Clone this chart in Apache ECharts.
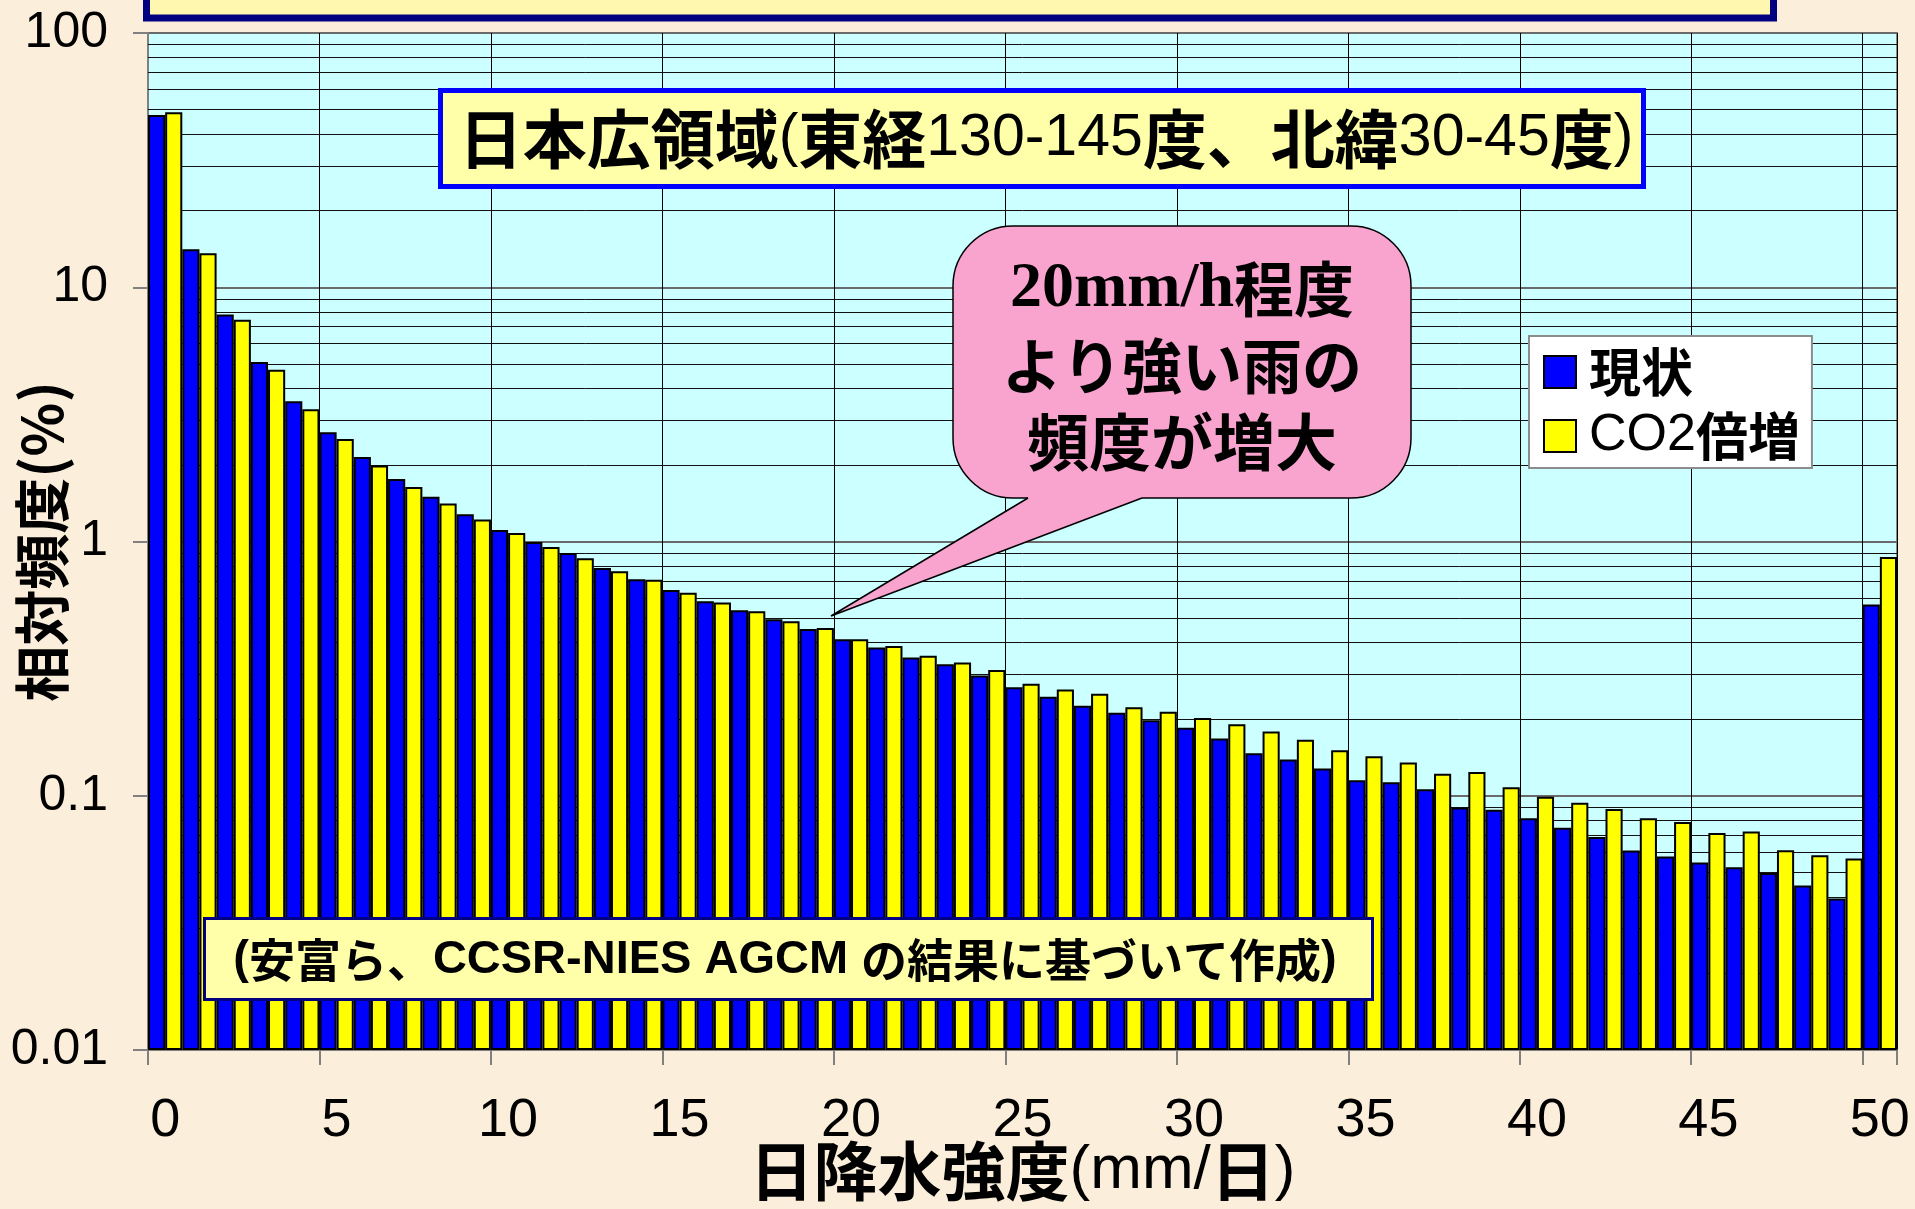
<!DOCTYPE html>
<html>
<head>
<meta charset="utf-8">
<title>日降水強度の相対頻度</title>
<script src="https://cdn.jsdelivr.net/npm/echarts@6/dist/echarts.min.js"></script>
<style>
  html, body { margin: 0; padding: 0; background: #fbeedb; }
  #chart { width: 1915px; height: 1209px; }
</style>
</head>
<body>
<div id="chart"></div>
<script>
// Daily precipitation intensity classes (mm/day); the last class collects 50 and above
const categories = ['0','1','2','3','4','5','6','7','8','9','10','11','12','13','14','15','16','17','18','19','20',
  '21','22','23','24','25','26','27','28','29','30','31','32','33','34','35','36','37','38','39','40',
  '41','42','43','44','45','46','47','48','49','50'];

// Relative frequency (%) - present climate
const presentFreq = [47.6, 14.1, 7.82, 5.08, 3.56, 2.69, 2.15, 1.76, 1.50, 1.28,
  1.11, 0.995, 0.901, 0.787, 0.710, 0.645, 0.582, 0.537, 0.495, 0.453,
  0.413, 0.383, 0.350, 0.329, 0.297, 0.267, 0.245, 0.226, 0.212, 0.198,
  0.185, 0.168, 0.147, 0.139, 0.128, 0.115, 0.113, 0.106, 0.0899, 0.0880,
  0.0815, 0.0749, 0.0688, 0.0609, 0.0577, 0.0546, 0.0523, 0.0497, 0.0444, 0.0394,
  0.565];

// Relative frequency (%) - doubled CO2
const doubledCO2Freq = [48.8, 13.6, 7.45, 4.74, 3.31, 2.53, 1.99, 1.64, 1.41, 1.22,
  1.08, 0.951, 0.859, 0.764, 0.708, 0.628, 0.575, 0.532, 0.486, 0.457,
  0.413, 0.388, 0.355, 0.334, 0.312, 0.276, 0.262, 0.252, 0.223, 0.214,
  0.202, 0.191, 0.179, 0.166, 0.151, 0.143, 0.135, 0.122, 0.124, 0.108,
  0.0992, 0.0938, 0.0887, 0.0815, 0.0789, 0.0713, 0.0723, 0.0611, 0.0584, 0.0567,
  0.87];

const seriesNames = ['現状', 'CO2倍増'];

// Log axis tick labels
const yTickValues = [0.01, 0.1, 1, 10, 100];
const yTickLabels = ['0.01', '0.1', '1', '10', '100'];

// Minor horizontal rules at 2..9 of every decade
const minorGridValues = [];
[0.01, 0.1, 1, 10].forEach(function (d) {
  for (let k = 2; k <= 9; k++) minorGridValues.push(+(k * d).toPrecision(3));
});

const CJK = '"Noto Sans CJK JP", "Noto Sans CJK SC", sans-serif';
const NARROW = '"Liberation Sans Narrow", "Liberation Sans", Arial, sans-serif';
const SANS = '"Liberation Sans", Arial, sans-serif';
const SERIF = '"Liberation Serif", "Times New Roman", serif';
const PINK = '#f9a3cf';

// Wrap runs of CJK and Latin characters in separate rich-text styles
function mixRuns(str, cjkKey, latKey) {
  let out = '', cur = '', curKey = null;
  for (const ch of str) {
    const k = /[\u3000-\u30ff\u4e00-\u9fff\uff00-\uffef]/.test(ch) ? cjkKey : latKey;
    if (curKey !== null && k !== curKey) { out += '{' + curKey + '|' + cur + '}'; cur = ''; }
    curKey = k; cur += ch;
  }
  if (cur) out += '{' + curKey + '|' + cur + '}';
  return out;
}

const chart = echarts.init(document.getElementById('chart'), null, { renderer: 'canvas' });

const option = {
  animation: false,
  backgroundColor: '#fbeedb',
  grid: {
    left: 148, right: 18, top: 33, bottom: 159,
    show: true, backgroundColor: '#ccffff', borderColor: '#8a8a8a', borderWidth: 2,
    containLabel: false, outerBoundsMode: 'none'
  },
  legend: {
    data: seriesNames,
    orient: 'vertical',
    left: 1529, top: 336,
    padding: [10, 12, 6, 14],
    itemWidth: 32, itemHeight: 32, itemGap: 12,
    icon: 'rect',
    backgroundColor: '#ffffff', borderColor: '#8c8c8c', borderWidth: 2, borderRadius: 0,
    itemStyle: { borderColor: '#000', borderWidth: 2 },
    selectedMode: false,
    formatter: function (name) { return '{g|}' + mixRuns(name, 'c', 'l'); },
    textStyle: {
      color: '#000',
      rich: {
        g: { width: 8, fontSize: 52, lineHeight: 54 },
        c: { fontFamily: CJK, fontWeight: 'bold', fontSize: 52, lineHeight: 54, color: '#000' },
        l: { fontFamily: SANS, fontWeight: 'normal', fontSize: 52, lineHeight: 54, color: '#000' }
      }
    }
  },
  xAxis: {
    type: 'category',
    data: categories,
    boundaryGap: true,
    axisLine: { show: true, onZero: false, lineStyle: { color: '#808080', width: 2 } },
    axisTick: { show: true, interval: 4, length: 15, alignWithLabel: false, lineStyle: { color: '#808080', width: 2 } },
    axisLabel: { interval: 4, margin: 44, color: '#000', fontFamily: NARROW, fontSize: 54 },
    splitLine: { show: true, interval: 4, lineStyle: { color: '#000', width: 1 } },
    name: mixRuns('日降水強度(mm/日)', 'c', 'l'),
    nameLocation: 'middle',
    nameGap: 88,
    nameMoveOverlap: false,
    nameTextStyle: {
      rich: {
        c: { fontFamily: CJK, fontWeight: 'bold', fontSize: 64, lineHeight: 66, color: '#000' },
        l: { fontFamily: NARROW, fontWeight: 'normal', fontSize: 62, lineHeight: 66, color: '#000' }
      }
    }
  },
  yAxis: {
    type: 'log',
    logBase: 10,
    min: 0.01,
    max: 100,
    startValue: 0.01,
    axisLine: { show: true, lineStyle: { color: '#808080', width: 2 } },
    axisTick: { show: true, length: 15, lineStyle: { color: '#808080', width: 2 } },
    axisLabel: {
      margin: 40, color: '#000', fontFamily: NARROW, fontSize: 50,
      formatter: function (v) {
        for (let i = 0; i < yTickValues.length; i++) {
          if (Math.abs(Math.log10(v) - Math.log10(yTickValues[i])) < 1e-6) return yTickLabels[i];
        }
        return '';
      }
    },
    splitLine: { show: true, lineStyle: { color: '#6a6a6a', width: 2 } },
    name: '相対頻度(%)',
    nameLocation: 'middle',
    nameRotate: 90,
    nameGap: 78,
    nameMoveOverlap: false,
    nameTextStyle: { fontFamily: CJK, fontWeight: 'bold', fontSize: 56, color: '#000' }
  },
  series: [
    {
      name: seriesNames[0],
      type: 'bar',
      data: presentFreq,
      barGap: '0%',
      barCategoryGap: '0%',
      z: 2,
      itemStyle: { color: '#0000ff', borderColor: '#000', borderWidth: 2 },
      emphasis: { disabled: true },
      markLine: {
        silent: true,
        z: 1,
        symbol: ['none', 'none'],
        label: { show: false },
        emphasis: { disabled: true },
        lineStyle: { color: '#111', width: 1, type: 'solid' },
        data: minorGridValues.map(function (v) { return { yAxis: v }; })
      }
    },
    {
      name: seriesNames[1],
      type: 'bar',
      data: doubledCO2Freq,
      barGap: '0%',
      barCategoryGap: '0%',
      z: 2,
      itemStyle: { color: '#ffff00', borderColor: '#000', borderWidth: 2 },
      emphasis: { disabled: true }
    }
  ],
  graphic: [
    // heading banner running off the top edge
    {
      type: 'rect', z: 100, silent: true,
      shape: { x: 146.5, y: -60, width: 1627, height: 78 },
      style: { fill: '#fff7b0', stroke: '#000080', lineWidth: 7 }
    },
    // region caption
    {
      type: 'rect', z: 100, silent: true,
      shape: { x: 440.5, y: 90.5, width: 1203, height: 96 },
      style: { fill: '#ffffaa', stroke: '#0000ff', lineWidth: 5 }
    },
    {
      type: 'text', z: 101, silent: true,
      x: 1046, y: 139,
      style: {
        text: mixRuns('日本広領域(東経130-145度、北緯30-45度)', 'c', 'l'),
        align: 'center', verticalAlign: 'middle',
        rich: {
          c: { fontFamily: CJK, fontWeight: 'bold', fontSize: 64, fill: '#000' },
          l: { fontFamily: NARROW, fontWeight: 'normal', fontSize: 59, fill: '#000' }
        }
      }
    },
    // speech bubble: rounded body, tail fill, tail outline
    {
      type: 'rect', z: 100, silent: true,
      shape: { x: 953, y: 226, width: 458, height: 272, r: 60 },
      style: { fill: PINK, stroke: '#000', lineWidth: 1.5 }
    },
    {
      type: 'polygon', z: 101, silent: true,
      shape: { points: [[1028, 495], [1142, 495], [1142, 498], [831, 616], [1028, 498]] },
      style: { fill: PINK }
    },
    {
      type: 'polyline', z: 102, silent: true,
      shape: { points: [[1028, 498], [831, 616], [1142, 498]] },
      style: { stroke: '#000', lineWidth: 1.5, fill: null }
    },
    {
      type: 'text', z: 103, silent: true,
      x: 1182, y: 289,
      style: {
        text: '{s|20mm/h}{c|程度}',
        align: 'center', verticalAlign: 'middle',
        rich: {
          s: { fontFamily: SERIF, fontWeight: 'bold', fontSize: 64, fill: '#000' },
          c: { fontFamily: CJK, fontWeight: 'bold', fontSize: 60, fill: '#000' }
        }
      }
    },
    {
      type: 'text', z: 103, silent: true,
      x: 1182, y: 366,
      style: {
        text: 'より強い雨の', align: 'center', verticalAlign: 'middle',
        fontFamily: CJK, fontWeight: 'bold', fontSize: 60, fill: '#000'
      }
    },
    {
      type: 'text', z: 103, silent: true,
      x: 1182, y: 442,
      style: {
        text: '頻度が増大', align: 'center', verticalAlign: 'middle',
        fontFamily: CJK, fontWeight: 'bold', fontSize: 62, fill: '#000'
      }
    },
    // data source note
    {
      type: 'rect', z: 100, silent: true,
      shape: { x: 204.5, y: 918.5, width: 1168, height: 81 },
      style: { fill: '#ffffaa', stroke: '#000080', lineWidth: 3 }
    },
    {
      type: 'text', z: 101, silent: true,
      x: 785, y: 960,
      style: {
        text: mixRuns('(安富ら、CCSR-NIES AGCM の結果に基づいて作成)', 'c', 'l'),
        align: 'center', verticalAlign: 'middle',
        rich: {
          c: { fontFamily: CJK, fontWeight: 'bold', fontSize: 46, fill: '#000' },
          l: { fontFamily: SANS, fontWeight: 'bold', fontSize: 47, fill: '#000' }
        }
      }
    }
  ]
};

chart.setOption(option);
</script>
</body>
</html>
